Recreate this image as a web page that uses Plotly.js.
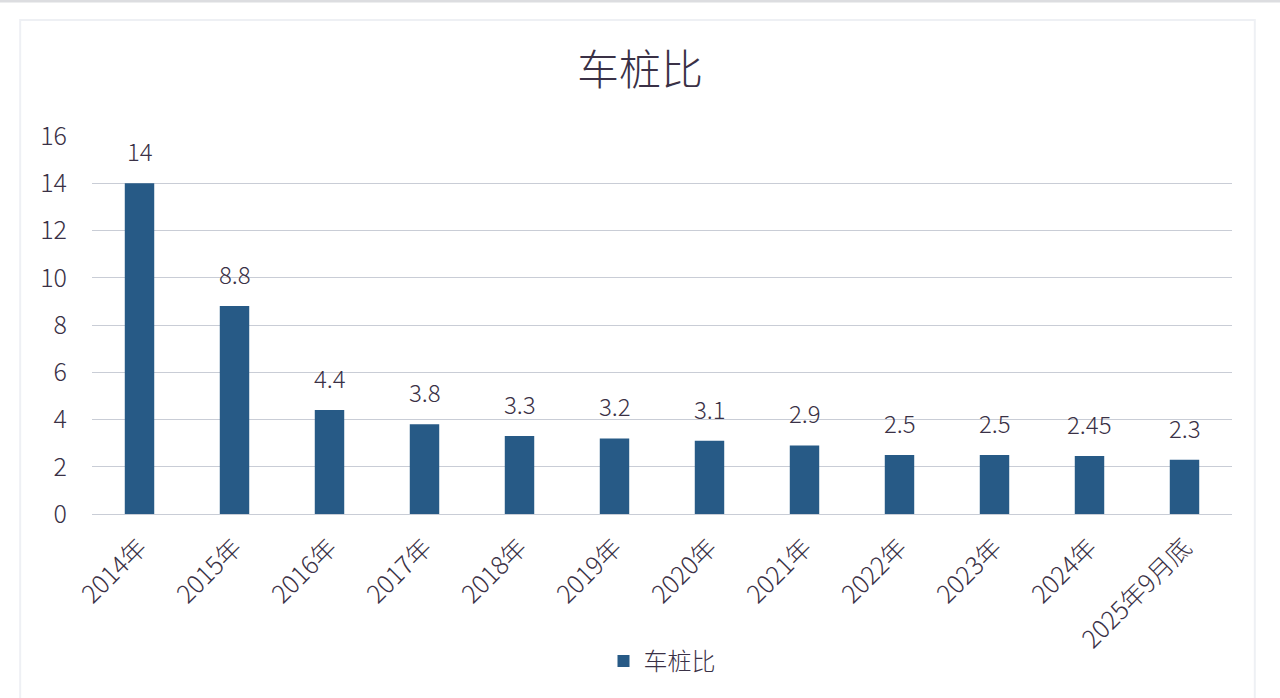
<!DOCTYPE html>
<html>
<head>
<meta charset="utf-8">
<script src="https://cdn.plot.ly/plotly-3.0.1.min.js"></script>
<style>
  html, body { margin: 0; padding: 0; background: #ffffff; overflow: hidden; }
  #chart { width: 1280px; height: 698px; }
</style>
</head>
<body>
<div id="chart"></div>
<script>
// 车桩比 data
const years = ["2014年", "2015年", "2016年", "2017年", "2018年", "2019年",
               "2020年", "2021年", "2022年", "2023年", "2024年", "2025年9月底"];
const ratios = [14, 8.8, 4.4, 3.8, 3.3, 3.2, 3.1, 2.9, 2.5, 2.5, 2.45, 2.3];
const yTicks = [0, 2, 4, 6, 8, 10, 12, 14, 16];

const fontFamily = '"Noto Sans CJK SC", "Noto Sans", sans-serif';
const textColor = "#3a3146";

const trace = {
    type: "bar",
    x: years,
    y: ratios,
    name: "车桩比",
    marker: { color: "#275a86" },
    hoverinfo: "x+y"
};

// value labels sit a bit above each bar
const labels = years.map((yr, i) => ({
    x: yr,
    y: ratios[i],
    xref: "x",
    yref: "y",
    text: String(ratios[i]),
    showarrow: false,
    yanchor: "bottom",
    yshift: 13,
    font: { family: fontFamily, size: 24, color: textColor, weight: 300 }
}));

const layout = {
    width: 1280,
    height: 698,
    paper_bgcolor: "#ffffff",
    plot_bgcolor: "#ffffff",
    margin: { l: 92, r: 48, t: 136, b: 184 },
    title: {
        text: "车桩比",
        x: 0.5,
        xanchor: "center",
        y: 1 - 70 / 698,
        yanchor: "middle",
        font: { family: fontFamily, size: 42, color: textColor, weight: 300 }
    },
    bargap: 0.69,
    xaxis: {
        type: "category",
        tickangle: -45,
        tickfont: { family: fontFamily, size: 25, color: textColor, weight: 300 },
        ticklabelstandoff: 13,
        showgrid: false,
        showline: false,
        ticks: "",
        automargin: false
    },
    yaxis: {
        range: [0, 16],
        tickvals: yTicks,
        tickfont: { family: fontFamily, size: 25, color: textColor, weight: 300 },
        ticklabelstandoff: 24,
        showgrid: true,
        gridcolor: "#c9cdd6",
        gridwidth: 1,
        zeroline: true,
        zerolinecolor: "#c9cdd6",
        zerolinewidth: 1,
        showline: false,
        ticks: "",
        automargin: false
    },
    showlegend: true,
    legend: {
        orientation: "h",
        x: 0.5,
        xanchor: "center",
        y: -(639 - 514) / 378,
        yanchor: "top",
        font: { family: fontFamily, size: 24, color: textColor, weight: 300 }
    },
    annotations: labels,
    shapes: [{
        type: "rect",
        xref: "paper",
        yref: "paper",
        x0: -0.063,
        x1: 1.02,
        y0: -0.6,
        y1: 1.307,
        line: { color: "#eef0f4", width: 2 },
        fillcolor: "rgba(0,0,0,0)",
        layer: "below"
    }, {
        type: "line",
        xref: "paper",
        yref: "paper",
        x0: -0.1,
        x1: 1.1,
        y0: 1.357,
        y1: 1.357,
        line: { color: "#dcdde0", width: 3 },
        layer: "below"
    }]
};

Plotly.newPlot("chart", [trace], layout, { displayModeBar: false, staticPlot: true });
</script>
</body>
</html>
